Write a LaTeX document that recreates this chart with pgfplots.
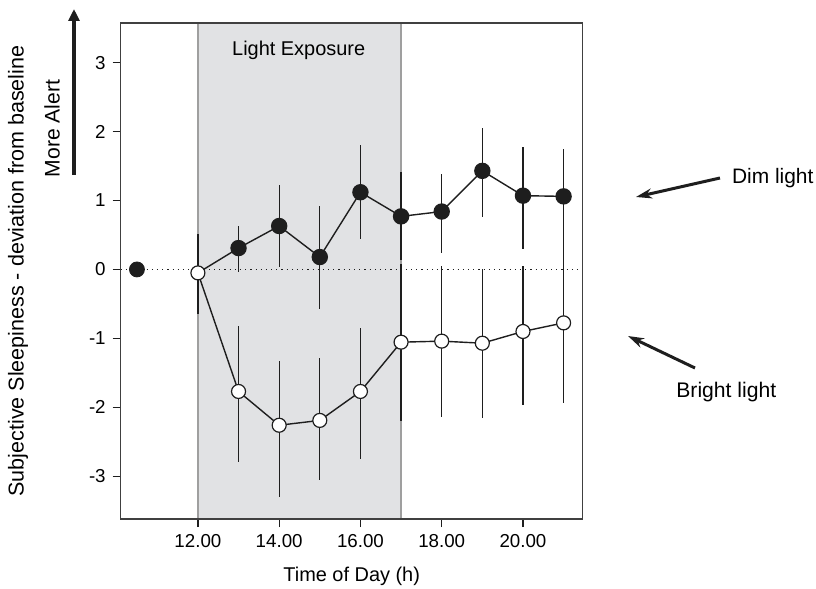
\documentclass[border=0pt]{standalone}
\usepackage{fontspec}
\setmainfont{Liberation Sans}
\usepackage{pgfplots}
\pgfplotsset{compat=1.18}
\usetikzlibrary{arrows.meta}

\definecolor{shade}{HTML}{E1E2E4}
\definecolor{ink}{HTML}{1E1E1E}

\begin{document}
\begin{tikzpicture}[x=1bp,y=1bp]
\useasboundingbox (-60.35,-35) rectangle (347.65,259.5);
\begin{axis}[
  at={(0,0)}, anchor=south west,
  scale only axis, width=231bp, height=248bp,
  xmin=10.1, xmax=21.47, ymin=-3.62, ymax=3.575,
  axis on top,
  axis line style={ink!85, line width=0.7bp},
  xtick={12,14,16,18,20},
  xticklabels={12.00,14.00,16.00,18.00,20.00},
  ytick={-3,-2,-1,0,1,2,3},
  tick align=outside, tick pos=left,
  major tick length=4bp,
  tick style={ink, line width=0.6bp},
  tick label style={font=\fontsize{9.4}{11}\selectfont},
  /pgf/number format/assume math mode=true,
  xlabel={Time of Day (h)},
  label style={font=\fontsize{10}{12}\selectfont},
  x label style={at={(axis description cs:0.5,0)}, anchor=center, yshift=-28.8bp},
  clip=false,
]
% light exposure window
\addplot[draw=gray!75, fill=shade, line width=0.6bp] coordinates {
  (12,-3.62) (12,3.575) (17,3.575) (17,-3.62)} -- cycle;
\node[font=\fontsize{10}{12}\selectfont] at (axis cs:14.48,3.18) {Light Exposure};

% baseline
\addplot[ink, dotted, line width=0.6bp] coordinates {(10.1,0) (21.47,0)};

% dim light
\addplot[ink, only marks, mark=*, mark size=3.75bp, mark options={fill=ink}]
  coordinates {(10.5,0)};
\addplot[ink, line width=0.7bp, mark=*, mark size=3.75bp, mark options={fill=ink},
  mark indices={2,3,4,5,6,7,8,9,10},
  error bars/.cd, y dir=both, y explicit, error mark=none,
  error bar style={ink, line width=0.6bp}]
  coordinates {
  (12,-0.05)
  (13,0.31) += (0,0.32) -= (0,0.34)
  (14,0.63) += (0,0.59) -= (0,0.60)
  (15,0.18) += (0,0.74) -= (0,0.75)
  (16,1.12) += (0,0.68) -= (0,0.68)
  (17,0.77) += (0,0.64) -= (0,0.64)
  (18,0.84) += (0,0.54) -= (0,0.60)
  (19,1.43) += (0,0.62) -= (0,0.67)
  (20,1.07) += (0,0.71) -= (0,0.77)
  (21,1.06) += (0,0.69) -= (0,0.76)
  };

% bright light
\addplot[ink, line width=0.7bp, mark=*, mark size=3.5bp,
  mark options={fill=white, draw=ink, line width=0.6bp},
  error bars/.cd, y dir=both, y explicit, error mark=none,
  error bar style={ink, line width=0.6bp}]
  coordinates {
  (12,-0.05) += (0,0.56) -= (0,0.59)
  (13,-1.77) += (0,0.95) -= (0,1.02)
  (14,-2.26) += (0,0.93) -= (0,1.04)
  (15,-2.19) += (0,0.91) -= (0,0.86)
  (16,-1.77) += (0,0.92) -= (0,0.98)
  (17,-1.055) += (0,1.13) -= (0,1.14)
  (18,-1.04) += (0,1.09) -= (0,1.10)
  (19,-1.07) += (0,1.08) -= (0,1.09)
  (20,-0.90) += (0,0.95) -= (0,1.06)
  (21,-0.775) += (0,1.15) -= (0,1.16)
  };
\end{axis}

% y label and direction cue
\node[rotate=90, inner sep=0pt, font=\fontsize{10.8}{12}\selectfont] at (-51.35,124)
  {Subjective Sleepiness - deviation from baseline};
\node[rotate=90, inner sep=0pt, font=\fontsize{10.6}{12}\selectfont] at (-34.35,195.25) {More Alert};
\draw[ink, line width=2bp, -{Triangle[length=6bp,width=5.5bp]}]
  (-23.35,172) -- (-23.35,255);

% series annotations
\node[anchor=west, inner sep=0pt, font=\fontsize{10.5}{12}\selectfont] at (305.5,170.5) {Dim light};
\draw[ink, line width=1.5bp, -{Stealth[length=8bp,width=5bp]}]
  (299.65,170.5) -- (257.65,161);
\node[anchor=west, inner sep=0pt, font=\fontsize{10.6}{12}\selectfont] at (277.65,63.65) {Bright light};
\draw[ink, line width=1.5bp, -{Stealth[length=8bp,width=5bp]}]
  (287.15,75.5) -- (253.65,91.5);
\end{tikzpicture}
\end{document}
